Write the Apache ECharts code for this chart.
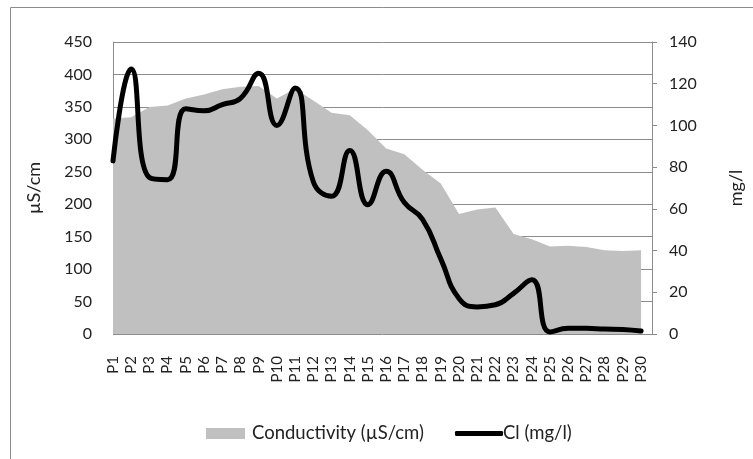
<!DOCTYPE html>
<html>
<head>
<meta charset="utf-8">
<script src="https://cdn.jsdelivr.net/npm/echarts@6/dist/echarts.min.js"></script>
<style>
html,body{margin:0;padding:0;background:#fff;}
#chart{width:753px;height:459px;}
</style>
</head>
<body>
<div id="chart"></div>
<script>
const categories = ['P1','P2','P3','P4','P5','P6','P7','P8','P9','P10','P11','P12','P13','P14','P15','P16','P17','P18','P19','P20','P21','P22','P23','P24','P25','P26','P27','P28','P29','P30'];
const conductivity = [332, 334, 350, 352, 363, 369, 377, 381, 382, 363, 378, 360, 341, 337, 314, 286, 277, 253, 232, 185, 192, 195, 154, 146, 135, 136, 134, 129, 128, 129];
const chloride = [83, 127, 75, 74, 108, 107, 110, 113, 125, 100, 118, 73, 66, 88, 62, 78, 63, 55, 36, 17, 13, 14, 19.5, 26, 1, 2.7, 2.7, 2.4, 2.2, 1.4];
const leftTicks = {min: 0, max: 450, interval: 50};
const rightTicks = {min: 0, max: 140, interval: 20};
const seriesNames = ['Conductivity (µS/cm)', 'Cl (mg/l)'];

const FONT = 'Lato';
const chart = echarts.init(document.getElementById('chart'), null, {renderer: 'canvas'});
chart.setOption({
  animation: false,
  backgroundColor: '#fff',
  textStyle: {fontFamily: FONT},
  graphic: [{
    type: 'rect', silent: true, z: -1,
    shape: {x: 10.5, y: 7.5, width: 800, height: 500},
    style: {fill: 'none', stroke: '#8c8c8c', lineWidth: 1}
  }],
  grid: {left: 113, right: 80, top: 42, bottom: 125, containLabel: false},
  legend: [{
    data: [seriesNames[0]], left: 206, top: 424, padding: 0, icon: 'rect',
    itemWidth: 39, itemHeight: 11, itemGap: 0,
    itemStyle: {borderWidth: 0},
    textStyle: {fontFamily: FONT, fontSize: 18.5, color: '#222', padding: [0,0,0,2]}
  }, {
    data: [seriesNames[1]], left: 455, top: 424, padding: 0, icon: 'roundRect',
    itemWidth: 48, itemHeight: 5, itemGap: 0,
    itemStyle: {borderWidth: 0},
    textStyle: {fontFamily: FONT, fontSize: 18.5, color: '#222', padding: [0,0,0,-5]}
  }],
  xAxis: {
    type: 'value', min: 0, max: 29.6, interval: 1,
    axisLine: {show: false}, axisTick: {show: false}, splitLine: {show: false},
    axisLabel: {
      rotate: 90, margin: 22, fontSize: 15, color: '#222', fontFamily: FONT,
      showMaxLabel: false,
      formatter: function (v) { return Number.isInteger(v) ? (categories[v] || '') : ''; }
    }
  },
  yAxis: [{
    type: 'value', position: 'left',
    min: leftTicks.min, max: leftTicks.max, interval: leftTicks.interval,
    name: 'µS/cm', nameLocation: 'middle', nameGap: 70, nameRotate: 90,
    nameTextStyle: {fontSize: 18, color: '#222', fontFamily: FONT},
    axisLine: {show: true, lineStyle: {color: '#8c8c8c', width: 1}},
    axisTick: {show: false},
    splitLine: {show: true, lineStyle: {color: '#8c8c8c', width: 1}},
    axisLabel: {fontSize: 16, color: '#222', margin: 21, fontFamily: FONT}
  }, {
    type: 'value', position: 'right',
    min: rightTicks.min, max: rightTicks.max, interval: rightTicks.interval,
    name: 'mg/l', nameLocation: 'middle', nameGap: 75, nameRotate: 90,
    nameTextStyle: {fontSize: 18, color: '#222', fontFamily: FONT},
    axisLine: {show: true, lineStyle: {color: '#8c8c8c', width: 1}},
    axisTick: {show: true, inside: false, length: 5, lineStyle: {color: '#8c8c8c'}},
    splitLine: {show: false},
    axisLabel: {fontSize: 16, color: '#222', margin: 17, fontFamily: FONT}
  }],
  series: [{
    name: seriesNames[0], type: 'line', yAxisIndex: 0,
    data: conductivity.map((v, i) => [i, v]),
    symbol: 'none', color: '#c0c0c0',
    lineStyle: {width: 0, color: '#c0c0c0'},
    areaStyle: {color: '#c0c0c0', opacity: 1},
    z: 1
  }, {
    name: seriesNames[1], type: 'line', yAxisIndex: 1,
    data: chloride.map((v, i) => [i, v]),
    symbol: 'none', smooth: 0.5, color: '#000',
    lineStyle: {width: 5, color: '#000', cap: 'round', join: 'round'},
    z: 3
  }]
});
</script>
</body>
</html>
